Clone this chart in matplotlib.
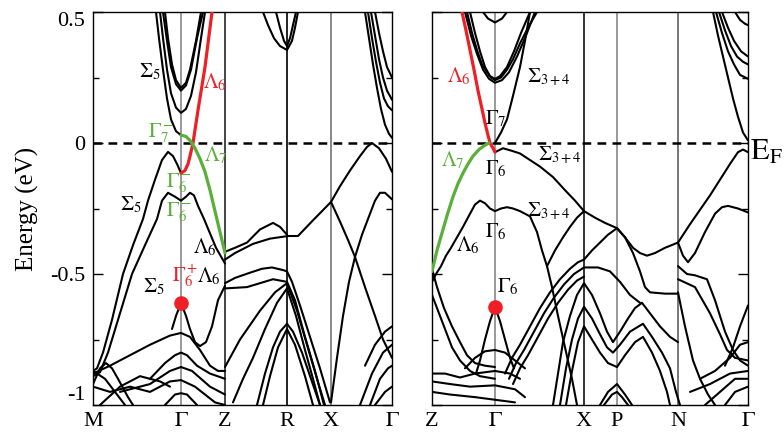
import numpy as np
import matplotlib.pyplot as plt

plt.rcParams['font.family'] = ['Liberation Serif', 'DejaVu Serif']
plt.rcParams['mathtext.fontset'] = 'stix'

RED = '#ee1f25'
GREEN = '#5aae3a'

# ---- high symmetry points (path coordinate) ----
kl = [93, 181, 225, 287, 331, 392]
kl_lab = ['M', r'$\Gamma$', 'Z', 'R', 'X', r'$\Gamma$']
kl_col = ['k', '#999999', '#444444', '#222222', '#888888', 'k']
kr = [432, 495, 584, 617, 678, 748]
kr_lab = ['Z', r'$\Gamma$', 'X', 'P', 'N', r'$\Gamma$']
kr_col = ['k', '#999999', '#333333', '#999999', '#777777', 'k']

# ---- left panel bands: (k, E[eV]) ----
left_red = [[(181, -0.115), (185, -0.105), (188, -0.08), (190, -0.05), (193, 0.0),
             (198, 0.125), (205, 0.29), (212, 0.5)]]
left_green = [[(181, 0.03), (186, 0.025), (190, 0.01), (195, -0.02), (200, -0.06),
               (205, -0.11), (210, -0.18), (215, -0.26), (220, -0.34), (225, -0.42)]]
left_cond = [
    [(165, 0.5), (168, 0.40), (172, 0.30), (176, 0.24), (181, 0.21), (186, 0.23), (190, 0.28), (196, 0.39), (201, 0.5)],
    [(163, 0.5), (167, 0.39), (171, 0.29), (176, 0.225), (181, 0.20), (186, 0.22), (191, 0.28), (197, 0.40), (203, 0.5)],
    [(160, 0.5), (163, 0.40), (167, 0.28), (171, 0.19), (176, 0.135), (181, 0.115), (186, 0.13), (191, 0.18),
     (196, 0.27), (201, 0.40), (205, 0.5)],
    [(156, 0.5), (159, 0.40), (163, 0.28), (167, 0.17), (171, 0.09), (176, 0.045), (181, 0.03)],
    [(263, 0.5), (268, 0.45), (274, 0.40), (280, 0.37), (287, 0.355), (292, 0.39), (295, 0.44), (298, 0.5)],
    [(276, 0.5), (280, 0.44), (284, 0.39), (287, 0.37), (290, 0.40), (293, 0.45), (296, 0.5)],
    [(365, 0.5), (369, 0.40), (373, 0.30), (377, 0.21), (381, 0.13), (385, 0.07), (389, 0.035), (392, 0.02)],
    [(368, 0.5), (372, 0.40), (376, 0.31), (380, 0.23), (384, 0.17), (388, 0.14), (392, 0.125)],
    [(371, 0.5), (375, 0.41), (379, 0.32), (383, 0.25), (387, 0.20), (392, 0.165)],
    [(375, 0.5), (379, 0.42), (383, 0.35), (387, 0.29), (392, 0.25)],
]
left_val = [
    [(93, -0.87), (97, -0.86), (103, -0.80), (112, -0.675), (123, -0.5), (133, -0.39), (143, -0.29),
     (148, -0.22), (155, -0.14), (162, -0.065), (168, -0.034), (173, -0.05), (177, -0.08), (181, -0.115)],
    [(93, -0.89), (100, -0.875), (108, -0.80), (118, -0.675), (132, -0.50), (145, -0.39), (157, -0.29),
     (162, -0.22), (168, -0.19), (175, -0.205), (181, -0.22), (186, -0.205), (190, -0.19), (194, -0.20),
     (198, -0.24), (204, -0.29), (210, -0.345), (216, -0.40), (225, -0.46)],
    [(225, -0.415), (235, -0.40), (247, -0.38), (260, -0.33), (273, -0.305), (280, -0.32), (287, -0.35)],
    [(225, -0.445), (235, -0.42), (253, -0.385), (270, -0.365), (288, -0.355), (298, -0.355), (313, -0.295),
     (331, -0.225)],
    [(331, -0.225), (340, -0.165), (350, -0.105), (360, -0.05), (367, -0.015), (372, 0.0), (379, -0.02),
     (386, -0.06), (392, -0.11)],
    [(331, -0.225), (340, -0.30), (348, -0.37), (355, -0.435), (365, -0.55), (375, -0.66), (383, -0.75),
     (392, -0.82)],
    [(331, -0.99), (337, -0.82), (343, -0.66), (349, -0.53), (355, -0.435), (362, -0.35), (369, -0.28),
     (375, -0.22), (380, -0.19), (385, -0.19), (392, -0.215)],
    [(225, -0.535), (235, -0.515), (250, -0.495), (262, -0.48), (272, -0.475), (283, -0.485), (287, -0.49),
     (292, -0.53), (300, -0.62), (310, -0.74), (320, -0.86), (330, -0.99)],
    [(225, -0.555), (247, -0.55), (273, -0.52), (287, -0.53), (295, -0.60), (305, -0.74), (315, -0.87),
     (324, -1.0)],
    [(225, -0.855), (240, -0.75), (260, -0.64), (275, -0.57), (287, -0.535), (297, -0.64), (307, -0.77),
     (317, -0.90), (325, -1.0)],
    [(233, -0.99), (243, -0.90), (253, -0.82), (265, -0.71), (277, -0.61), (287, -0.555), (296, -0.66),
     (305, -0.79), (313, -0.90), (320, -1.0)],
    [(257, -1.0), (265, -0.88), (273, -0.78), (280, -0.72), (287, -0.69), (293, -0.72), (302, -0.80),
     (311, -0.90), (320, -1.0)],
    [(263, -1.0), (270, -0.89), (278, -0.78), (287, -0.71), (295, -0.77), (305, -0.89), (313, -1.0)],
    [(172, -0.71), (176, -0.66), (181, -0.61), (186, -0.66), (190, -0.71), (195, -0.76), (200, -0.775),
     (206, -0.76), (212, -0.70), (218, -0.60), (225, -0.545)],
    [(93, -0.88), (110, -0.85), (130, -0.81), (150, -0.77), (170, -0.735), (181, -0.725), (190, -0.74),
     (200, -0.79), (210, -0.85), (218, -0.87), (225, -0.87)],
    [(150, -0.90), (165, -0.84), (175, -0.81), (181, -0.80), (187, -0.81), (197, -0.85), (210, -0.88),
     (225, -0.90)],
    [(120, -0.95), (150, -0.92), (170, -0.87), (181, -0.855), (192, -0.87), (210, -0.93), (225, -0.96)],
    [(93, -0.93), (110, -0.95), (130, -0.93), (150, -0.95), (170, -0.91), (181, -0.905), (195, -0.93),
     (215, -0.99), (225, -1.0)],
    [(165, -1.0), (175, -0.96), (181, -0.955), (187, -0.96), (197, -1.0)],
    [(93, -0.87), (105, -0.90), (115, -0.95), (125, -1.0)],
    [(93, -0.92), (100, -0.86), (106, -0.84), (112, -0.86), (118, -0.90), (128, -0.97), (133, -1.0)],
    [(100, -1.0), (120, -0.93), (140, -0.89), (160, -0.91), (170, -0.93)],
    [(365, -0.85), (375, -0.77), (385, -0.72), (392, -0.70)],
    [(360, -1.0), (372, -0.88), (383, -0.80), (392, -0.77)],
    [(370, -1.0), (380, -0.90), (388, -0.86), (392, -0.85)],
    [(375, -1.0), (385, -0.95), (392, -0.93)],
]

# ---- right panel bands ----
right_red = [[(462, 0.5), (466, 0.43), (470, 0.355), (474, 0.28), (478, 0.20), (482, 0.13), (485, 0.076),
              (488, 0.03), (490, 0.0), (493, -0.02), (495, -0.035)]]
right_green = [[(432, -0.49), (437, -0.41), (443, -0.33), (448, -0.265), (453, -0.205), (458, -0.155),
                (463, -0.115), (468, -0.08), (473, -0.05), (479, -0.025), (485, -0.008), (489, 0.0)]]
right_cond = [
    [(495, 0.0), (501, 0.04), (507, 0.09), (513, 0.18), (520, 0.29), (525, 0.39), (530, 0.5)],
    [(467, 0.5), (472, 0.42), (477, 0.355), (482, 0.30), (487, 0.27), (491, 0.25), (495, 0.24), (501, 0.25),
     (507, 0.28), (513, 0.32), (520, 0.38), (528, 0.44), (537, 0.5)],
    [(470, 0.5), (475, 0.42), (480, 0.35), (485, 0.29), (490, 0.255), (495, 0.245), (500, 0.255), (507, 0.29),
     (514, 0.35), (521, 0.42), (530, 0.5)],
    [(465, 0.5), (471, 0.41), (477, 0.34), (483, 0.28), (489, 0.245), (495, 0.23), (502, 0.24), (509, 0.27),
     (517, 0.33), (526, 0.41), (535, 0.5)],
    [(483, 0.5), (488, 0.475), (495, 0.46), (502, 0.475), (507, 0.5)],
    [(713, 0.5), (718, 0.41), (723, 0.33), (728, 0.25), (733, 0.17), (738, 0.10), (743, 0.04), (748, 0.01)],
    [(716, 0.5), (722, 0.42), (728, 0.35), (734, 0.30), (740, 0.26), (748, 0.245)],
    [(719, 0.5), (725, 0.43), (731, 0.37), (737, 0.33), (743, 0.31), (748, 0.30)],
    [(722, 0.5), (728, 0.44), (734, 0.39), (741, 0.35), (748, 0.33)],
    [(735, 0.5), (740, 0.47), (745, 0.455), (748, 0.45)],
]
right_val = [
    [(495, -0.035), (503, -0.02), (512, -0.03), (520, -0.04), (530, -0.065), (540, -0.09), (553, -0.13),
     (565, -0.18), (575, -0.22), (584, -0.26), (595, -0.285), (605, -0.305), (617, -0.325), (625, -0.36),
     (633, -0.40), (640, -0.42), (647, -0.43), (655, -0.42), (665, -0.40), (678, -0.38), (690, -0.31),
     (700, -0.255), (710, -0.20), (720, -0.14), (730, -0.08), (738, -0.035), (743, -0.025), (748, -0.035)],
    [(432, -0.53), (436, -0.50), (441, -0.47), (446, -0.43), (451, -0.40), (457, -0.36), (463, -0.32),
     (470, -0.27), (475, -0.235), (480, -0.22), (485, -0.23), (490, -0.25), (495, -0.26), (501, -0.25),
     (507, -0.245), (513, -0.25), (520, -0.26), (530, -0.28), (537, -0.34), (542, -0.41), (547, -0.47),
     (552, -0.55), (558, -0.66), (565, -0.78), (572, -0.90), (577, -1.0)],
    [(547, -0.47), (555, -0.41), (563, -0.36), (570, -0.32), (577, -0.285), (584, -0.26)],
    [(505, -0.88), (512, -0.82), (520, -0.77), (530, -0.70), (540, -0.63), (550, -0.57), (560, -0.52),
     (570, -0.48), (578, -0.455), (584, -0.445), (592, -0.41), (600, -0.38), (608, -0.35), (617, -0.325),
     (625, -0.36), (633, -0.42), (640, -0.49), (645, -0.55), (650, -0.57), (665, -0.575), (678, -0.575)],
    [(509, -0.90), (516, -0.84), (524, -0.79), (534, -0.72), (544, -0.65), (554, -0.59), (564, -0.54),
     (574, -0.50), (584, -0.475), (598, -0.475), (610, -0.49), (620, -0.53), (630, -0.58), (640, -0.61)],
    [(513, -0.92), (520, -0.86), (528, -0.81), (538, -0.74), (548, -0.67), (558, -0.61), (568, -0.56),
     (577, -0.525), (584, -0.51)],
    [(678, -0.38), (683, -0.43), (688, -0.455), (695, -0.42), (705, -0.34), (715, -0.27), (722, -0.245),
     (728, -0.24), (738, -0.25), (748, -0.265)],
    [(553, -1.0), (558, -0.88), (563, -0.76), (570, -0.66), (577, -0.58), (584, -0.535), (592, -0.58),
     (600, -0.65), (607, -0.72), (613, -0.76), (620, -0.72), (628, -0.67), (635, -0.63), (642, -0.61),
     (650, -0.65), (660, -0.70), (670, -0.74), (678, -0.76)],
    [(560, -1.0), (566, -0.86), (572, -0.75), (578, -0.67), (584, -0.625), (592, -0.67), (600, -0.73),
     (607, -0.78), (613, -0.80), (620, -0.77), (630, -0.72), (643, -0.69), (652, -0.74), (662, -0.80),
     (670, -0.86), (676, -0.95), (680, -1.0)],
    [(566, -1.0), (572, -0.87), (578, -0.76), (584, -0.70), (592, -0.75), (600, -0.80), (608, -0.84),
     (617, -0.855), (625, -0.81), (635, -0.76), (643, -0.74), (652, -0.80), (660, -0.87), (667, -0.95),
     (670, -1.0)],
    [(600, -1.0), (608, -0.95), (617, -0.92), (625, -0.96), (632, -1.0)],
    [(604, -1.0), (612, -0.96), (617, -0.95), (622, -0.97), (628, -1.0)],
    [(678, -0.47), (687, -0.50), (695, -0.505), (707, -0.52), (715, -0.60), (725, -0.72), (733, -0.79),
     (740, -0.83), (748, -0.85)],
    [(678, -0.52), (695, -0.55), (710, -0.65), (720, -0.73), (727, -0.79), (735, -0.82), (748, -0.83)],
    [(678, -0.57), (685, -0.70), (693, -0.83), (700, -0.90), (708, -0.96), (715, -1.0)],
    [(700, -0.90), (715, -0.87), (730, -0.82), (740, -0.77), (748, -0.76)],
    [(690, -0.95), (710, -0.92), (730, -0.88), (748, -0.87)],
    [(705, -1.0), (720, -0.95), (735, -0.90), (748, -0.90)],
    [(725, -1.0), (735, -0.95), (748, -0.93)],
    [(725, -0.85), (733, -0.78), (740, -0.70), (748, -0.62)],
    [(476, -0.88), (480, -0.83), (485, -0.75), (490, -0.68), (495, -0.625), (500, -0.68), (505, -0.75),
     (510, -0.82), (514, -0.86)],
    [(432, -0.48), (437, -0.55), (444, -0.63), (452, -0.70), (460, -0.76), (467, -0.81), (475, -0.84),
     (485, -0.85), (495, -0.855)],
    [(432, -0.58), (438, -0.64), (445, -0.71), (452, -0.78), (460, -0.83), (470, -0.87), (480, -0.89),
     (495, -0.90)],
    [(465, -0.86), (475, -0.82), (485, -0.795), (495, -0.79), (505, -0.80), (515, -0.83), (525, -0.86)],
    [(432, -0.88), (445, -0.88), (460, -0.895), (475, -0.88), (495, -0.87), (510, -0.88), (520, -0.90)],
    [(432, -0.91), (450, -0.92), (470, -0.93), (495, -0.925), (515, -0.94), (525, -0.97)],
    [(432, -0.95), (450, -0.96), (475, -0.97), (495, -0.98), (515, -0.99)],
]

# ---- labels: (text, k, E baseline, colour) ----
left_labels = [
    (r'$\Sigma_5$', 139, 0.25, 'k'), (r'$\Lambda_6$', 203, 0.21, RED),
    (r'$\Gamma_7^-$', 148, 0.02, GREEN), (r'$\Lambda_7$', 204, -0.07, GREEN),
    (r'$\Gamma_6^-$', 166, -0.17, GREEN), (r'$\Gamma_6^-$', 166, -0.28, GREEN),
    (r'$\Sigma_5$', 120, -0.255, 'k'), (r'$\Lambda_6$', 193, -0.42, 'k'),
    (r'$\Sigma_5$', 143, -0.57, 'k'), (r'$\Gamma_6^+$', 172, -0.53, RED),
    (r'$\Lambda_6$', 197, -0.53, 'k'),
]
right_labels = [
    (r'$\Lambda_6$', 447, 0.23, RED), (r'$\Sigma_{3+4}$', 527, 0.23, 'k'),
    (r'$\Gamma_7$', 485, 0.07, 'k'), (r'$\Lambda_7$', 441, -0.09, GREEN),
    (r'$\Gamma_6$', 485, -0.12, 'k'), (r'$\Sigma_{3+4}$', 538, -0.065, 'k'),
    (r'$\Sigma_{3+4}$', 527, -0.28, 'k'), (r'$\Gamma_6$', 485, -0.36, 'k'),
    (r'$\Lambda_6$', 456, -0.415, 'k'), (r'$\Gamma_6$', 497, -0.57, 'k'),
]
dots = [(181, -0.61), (495, -0.625)]
e_ticks = [-1, -0.5, 0, 0.5]
e_tick_labels = ['-1', '-0.5', '0', '0.5']


def draw(ax, bands, color='k', lw=1.5, z=2):
    for b in bands:
        k, e = zip(*b)
        ax.plot(k, e, color=color, lw=lw, zorder=z, solid_joinstyle='round', solid_capstyle='round')


fig = plt.figure(figsize=(7.84, 4.36), dpi=100)
ax1 = fig.add_axes([93 / 784, 31 / 436, 299 / 784, 393 / 436])
ax2 = fig.add_axes([432 / 784, 31 / 436, 316 / 784, 393 / 436])

panels = [(ax1, kl, kl_lab, kl_col, left_cond + left_val, left_red, left_green, left_labels, dots[0]),
          (ax2, kr, kr_lab, kr_col, right_cond + right_val, right_red, right_green, right_labels, dots[1])]

for ax, ks, labs, cols, black, red, green, texts, dot in panels:
    ax.set_xlim(ks[0], ks[-1])
    ax.set_ylim(-1, 0.5)
    for k, c in zip(ks[1:-1], cols[1:-1]):
        ax.axvline(k, color=c, lw=1.4, zorder=1)
    ax.axhline(0, color='k', lw=1.8, dashes=(3.5, 2.5), zorder=3)
    draw(ax, black)
    draw(ax, red, RED, 2.3, 4)
    draw(ax, green, GREEN, 2.3, 4)
    ax.plot(*dot, 'o', color=RED, ms=9.5, zorder=5)
    for t, k, e, c in texts:
        ax.text(k, e, t, color=c, fontsize=15, ha='left', va='baseline', zorder=6)
    ax.set_xticks(ks)
    ax.set_xticklabels(labs, fontsize=16)
    ax.tick_params(axis='x', length=0, pad=5)
    ax.set_yticks(e_ticks)
    ax.set_yticks([-0.75, -0.25, 0.25], minor=True)
    ax.tick_params(axis='y', which='major', direction='in', left=True, right=True, length=7, width=1, pad=5.5)
    ax.tick_params(axis='y', which='minor', direction='in', left=True, right=True, length=4, width=1)
    for s in ax.spines.values():
        s.set_linewidth(1.0)

ax1.set_yticklabels(e_tick_labels, fontsize=16)
ytl = ax1.get_yticklabels()
ytl[0].set_va('bottom')
ytl[-1].set_va('top')
ax1.set_ylabel('Energy (eV)', fontsize=18, labelpad=8)
ax2.tick_params(axis='y', labelleft=False)
fig.text(750 / 784, 1 - 160 / 436, r'$\mathrm{E_F}$', fontsize=22, ha='left', va='baseline')

plt.savefig('out.png', dpi=100)
